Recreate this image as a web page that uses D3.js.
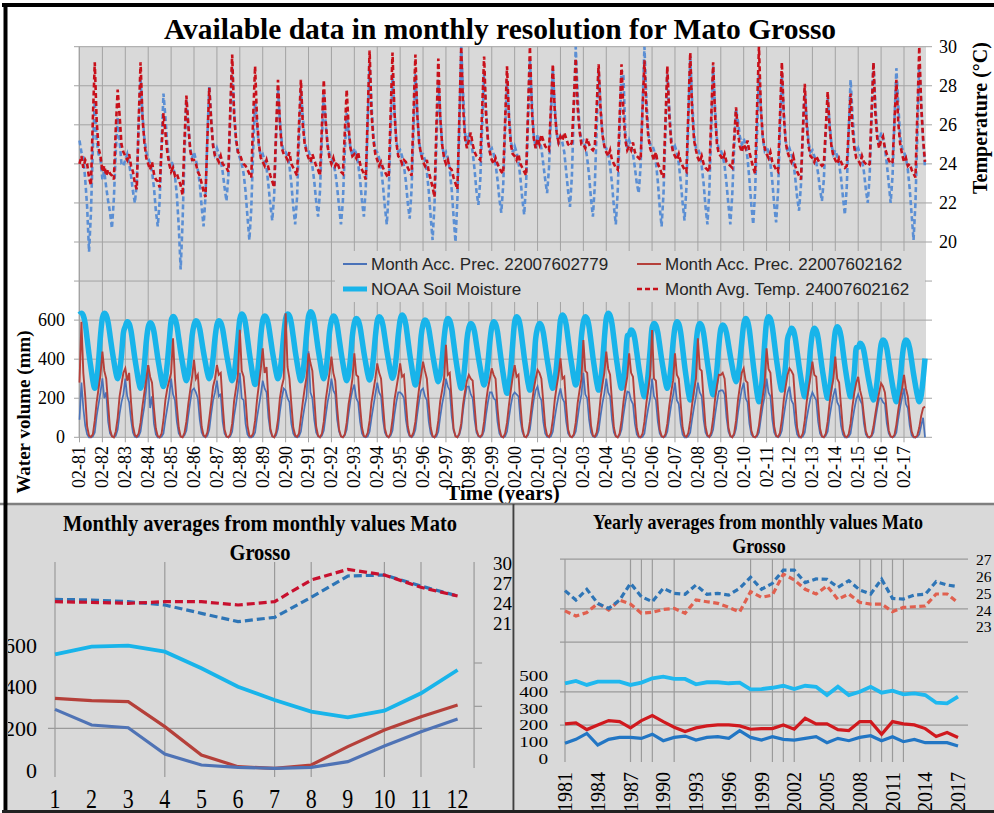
<!DOCTYPE html>
<html><head><meta charset="utf-8">
<script src="https://cdn.jsdelivr.net/npm/d3@7"></script>
<style>body{margin:0;background:#fff}svg{display:block}</style>
</head><body>
<svg id="c" width="994" height="813"></svg>
<script>
// ---------------- DATA ----------------
// Top chart: monthly series Jan 1981 .. Dec 2017 (one row per year)
const tickLabels = ["02-81","02-82","02-83","02-84","02-85","02-86","02-87","02-88","02-89","02-90","02-91","02-92","02-93","02-94","02-95","02-96","02-97","02-98","02-99","02-00","02-01","02-02","02-03","02-04","02-05","02-06","02-07","02-08","02-09","02-10","02-11","02-12","02-13","02-14","02-15","02-16","02-17"];

const precip2779 = [
[90,280,150,60,15,0,0,5,25,110,170,230],
[302,200,230,80,20,5,0,8,40,120,180,220],
[300,210,180,90,25,3,0,5,30,100,160,250],
[370,150,210,70,15,0,0,3,20,90,150,210],
[300,220,190,80,20,5,0,10,35,110,180,240],
[250,230,200,90,25,5,0,8,40,120,190,230],
[290,210,220,80,20,3,0,5,30,110,170,240],
[330,200,190,70,15,0,0,5,25,100,160,220],
[290,250,230,100,30,5,0,10,45,130,200,250],
[240,200,180,70,20,3,0,5,30,100,160,210],
[440,230,200,90,25,5,0,8,35,110,180,230],
[300,240,220,90,30,5,0,10,40,120,190,240],
[270,200,180,80,20,3,0,5,30,100,160,220],
[280,230,210,90,25,5,0,8,35,115,180,230],
[230,220,200,90,30,5,0,10,40,120,190,240],
[250,210,190,80,20,3,0,5,30,105,170,220],
[300,260,240,110,35,8,0,12,50,140,210,260],
[260,220,200,90,25,5,0,8,35,115,180,230],
[230,200,190,80,20,3,0,5,30,100,165,215],
[230,220,210,90,30,5,0,10,40,120,190,240],
[260,210,190,80,20,3,0,5,30,100,160,210],
[250,200,180,80,20,5,0,8,30,100,170,220],
[330,220,200,90,25,5,0,8,35,110,175,225],
[300,230,210,90,25,5,0,10,40,115,180,235],
[230,190,170,70,15,0,0,3,20,90,150,200],
[300,210,190,80,20,3,0,5,30,100,165,215],
[280,190,170,70,15,0,0,5,25,95,155,210],
[280,230,210,90,25,5,0,10,40,115,180,235],
[240,240,220,100,30,5,0,10,45,125,190,245],
[280,200,180,70,15,3,0,5,25,95,160,210],
[300,230,210,90,25,5,0,8,35,110,175,230],
[260,190,170,70,15,0,0,5,25,95,150,200],
[230,210,190,80,20,3,0,8,30,105,165,215],
[250,180,160,60,15,0,0,3,20,85,145,195],
[220,190,170,70,15,0,0,5,25,90,150,200],
[200,180,170,70,20,3,0,5,25,95,155,205],
[250,170,150,60,10,0,0,3,15,60,100,0]
].flat();

const precip2162 = [
[280,592,330,210,55,8,2,15,85,180,250,320],
[439,340,300,170,40,5,0,30,100,210,270,330],
[353,290,330,180,60,12,3,20,75,160,230,300],
[370,310,280,150,45,6,0,18,90,190,250,290],
[330,507,300,160,50,4,0,22,80,170,240,310],
[396,300,320,190,55,10,2,25,95,175,260,300],
[370,320,330,170,40,5,0,15,70,185,250,320],
[550,340,310,200,60,8,3,20,85,190,270,350],
[456,330,360,180,45,6,0,25,90,200,260,300],
[635,360,300,170,50,10,2,20,100,180,250,310],
[430,380,340,200,55,8,0,18,80,190,260,330],
[413,330,290,150,40,5,0,15,75,170,230,300],
[430,320,310,160,50,6,2,22,85,180,240,300],
[378,330,300,170,45,8,0,20,90,190,250,310],
[378,310,320,180,55,10,3,25,80,175,255,320],
[387,340,300,170,50,6,0,18,85,185,240,300],
[473,320,330,190,45,5,0,20,70,170,235,290],
[319,300,290,160,40,8,2,15,80,180,250,300],
[353,320,300,150,45,6,0,20,75,165,240,310],
[370,310,320,170,50,5,0,18,80,170,245,300],
[345,330,300,180,55,10,2,22,90,190,260,320],
[404,300,310,160,40,6,0,15,75,175,240,300],
[498,340,330,190,60,8,3,25,95,200,270,330],
[439,350,320,180,50,6,0,20,85,180,250,310],
[430,330,310,170,45,5,0,18,80,175,245,320],
[549,300,290,160,40,6,0,15,70,160,230,290],
[430,320,300,170,50,8,2,22,85,170,240,300],
[507,350,340,190,55,10,2,25,95,195,265,320],
[319,330,300,180,50,8,0,20,85,190,260,330],
[353,290,280,140,35,4,0,12,60,140,210,280],
[456,350,330,190,55,8,2,22,90,190,260,320],
[353,340,320,180,50,6,0,20,85,180,250,310],
[387,320,310,170,45,5,0,18,80,175,245,300],
[413,300,280,160,40,6,0,15,70,160,230,280],
[310,240,200,110,30,4,0,10,55,120,180,230],
[276,260,230,130,35,5,0,12,65,140,200,250],
[319,250,210,110,30,3,0,10,50,110,150,157]
].flat();

const soilMoisture = [
[628,635,623,581,504,424,355,289,251,289,389,520],
[612,635,625,588,521,451,390,334,300,334,421,535],
[568,592,582,544,476,404,343,285,251,285,374,490],
[564,587,577,541,476,407,348,293,260,293,378,489],
[595,618,608,572,506,438,379,323,290,323,408,520],
[576,597,588,555,496,434,380,330,300,330,407,508],
[576,597,588,554,493,428,373,321,290,321,401,505],
[606,631,620,580,508,432,367,306,270,306,400,523],
[599,621,611,576,512,444,387,332,300,332,416,525],
[607,631,621,583,515,443,382,324,290,324,413,529],
[619,643,633,595,526,454,393,334,300,334,423,540],
[598,621,611,575,508,439,379,323,290,323,409,522],
[586,608,599,564,501,435,378,325,293,325,406,514],
[595,617,608,573,510,444,387,334,302,334,415,523],
[601,626,615,576,504,429,365,304,268,304,397,519],
[578,600,591,556,493,427,370,317,285,317,398,506],
[583,608,597,558,487,412,347,287,251,287,380,501],
[561,583,574,539,476,410,353,300,268,300,381,489],
[566,592,581,541,467,390,324,262,225,262,357,482],
[591,617,606,565,490,411,343,280,242,280,377,505],
[560,583,573,537,470,400,341,284,251,284,371,483],
[601,626,615,576,504,429,365,304,268,304,397,519],
[591,617,606,565,490,411,343,280,242,280,377,505],
[608,635,623,581,504,424,355,289,251,289,389,520],
[525,549,539,501,433,361,300,242,208,242,331,447],
[560,583,573,537,470,400,341,284,251,284,371,483],
[564,592,580,536,456,371,299,231,191,231,335,472],
[557,583,572,532,459,382,316,254,217,254,349,473],
[555,575,566,534,476,416,363,314,285,314,389,488],
[578,608,595,548,463,374,297,225,182,225,335,480],
[591,617,606,565,490,411,343,280,242,280,377,505],
[534,558,548,509,439,366,303,243,208,243,334,453],
[533,558,547,508,436,361,297,236,200,236,329,451],
[541,566,555,516,444,369,305,244,208,244,337,459],
[461,481,472,440,382,322,269,220,191,220,295,394],
[476,498,489,454,391,324,267,214,182,214,296,403],
[476,498,489,454,391,324,267,214,182,214,296,403]
].flat();

const temp24007602162 = [
[24.0,24.4,23.8,24.2,24.0,23.3,22.9,26.3,29.2,26.2,24.8,24.4],
[23.6,23.9,23.4,23.7,23.5,23.4,23.2,25.8,27.8,26.5,25.0,24.6],
[24.4,24.2,24.5,23.9,23.6,23.0,22.7,26.2,29.2,26.4,25.1,24.3],
[24.0,23.7,24.1,23.5,23.2,23.1,22.8,24.8,26.6,25.6,24.6,24.0],
[23.6,23.8,23.4,23.5,23.2,22.9,22.4,25.2,27.5,26.0,24.7,24.2],
[24.2,24.0,23.6,23.4,23.0,22.6,22.3,25.3,27.9,26.2,24.9,24.4],
[24.3,24.1,24.4,24.0,23.9,23.8,23.6,26.8,29.6,26.5,25.3,24.6],
[24.5,24.2,24.0,23.9,23.7,23.5,23.3,26.4,29.0,26.3,25.0,24.3],
[24.1,23.9,24.2,23.8,23.4,23.1,22.8,25.7,28.3,26.1,24.8,24.5],
[24.4,24.2,24.6,24.0,23.8,23.6,23.4,26.0,28.3,26.0,25.0,24.6],
[24.3,24.1,24.5,24.2,23.9,23.7,23.4,25.9,28.3,26.2,24.9,24.3],
[24.0,24.3,23.9,24.1,23.8,23.6,23.5,25.6,27.8,25.9,24.8,24.4],
[24.5,24.3,24.6,24.0,23.7,23.5,23.2,26.5,29.8,26.6,25.2,24.5],
[24.2,23.9,24.1,23.8,23.6,23.4,23.3,26.5,29.7,26.7,25.1,24.4],
[24.3,24.0,24.2,24.1,23.8,23.6,23.4,26.6,29.6,26.5,25.0,24.5],
[24.1,23.9,24.2,23.6,23.2,22.8,22.3,25.9,29.4,26.4,25.0,24.3],
[24.0,24.2,23.8,23.7,23.3,23.0,22.7,26.3,30.0,26.9,25.3,24.8],
[25.2,25.6,25.0,24.6,24.4,24.3,24.2,26.9,29.5,26.6,25.2,24.6],
[24.2,24.0,24.3,24.0,23.8,23.6,23.5,26.2,29.0,26.4,25.0,24.5],
[24.4,24.2,24.5,24.0,23.8,23.6,23.4,26.7,30.0,26.8,25.3,24.8],
[25.3,25.0,25.5,25.2,24.9,24.8,24.7,26.9,29.1,26.7,25.6,25.1],
[25.4,25.2,25.6,25.3,25.0,24.9,25.1,27.2,29.4,26.9,25.7,25.0],
[25.0,24.8,25.3,25.0,24.8,24.7,24.9,27.0,29.1,26.8,25.5,24.9],
[24.6,24.4,24.7,24.2,24.0,23.8,23.7,26.4,29.1,26.6,25.2,24.7],
[24.9,24.7,25.1,24.6,24.4,24.3,24.2,26.8,29.3,26.8,25.4,24.8],
[24.5,24.2,24.6,24.0,23.8,23.5,23.3,26.2,29.0,26.5,25.1,24.6],
[24.4,24.2,24.5,24.1,23.9,23.7,23.6,26.7,29.7,26.7,25.2,24.7],
[24.3,24.1,24.4,24.0,23.8,23.7,23.6,26.4,29.2,26.5,25.0,24.5],
[24.4,24.2,24.5,24.1,24.0,23.9,23.8,25.3,26.9,25.6,24.9,24.6],
[25.0,24.8,25.2,24.6,24.2,23.8,23.5,26.8,30.0,26.9,25.4,24.8],
[24.5,24.3,24.6,24.1,23.9,23.7,23.6,26.4,29.2,26.5,25.1,24.6],
[24.3,24.1,24.4,23.9,23.6,23.4,23.2,25.7,28.1,26.0,24.9,24.4],
[24.3,24.1,24.4,24.2,24.0,23.9,24.0,25.8,27.7,25.9,24.9,24.4],
[24.2,24.0,24.3,24.1,23.9,23.8,23.9,25.7,27.6,25.8,24.8,24.3],
[24.2,24.0,24.4,24.1,24.0,23.9,24.0,26.6,29.2,26.6,25.3,24.8],
[25.2,25.4,24.8,24.5,24.2,24.0,24.1,26.2,28.3,26.1,25.0,24.5],
[24.1,24.3,23.9,24.0,23.7,23.5,23.3,26.6,30.0,27.0,25.3,24.1]
].flat();

const tempBlueDashed = [
[25.2,24.6,24.3,23.2,21.8,19.5,21.5,24.8,27.2,25.2,24.5,24.2],
[23.2,23.6,22.8,22.1,21.5,20.7,22.2,24.6,26.4,25.2,24.0,23.9],
[24.2,24.5,24.0,23.4,22.6,22.0,23.0,26.0,28.3,26.5,25.3,24.6],
[24.3,24.0,23.6,22.8,21.6,20.8,22.1,25.0,27.6,26.4,25.0,24.2],
[24.2,23.9,23.4,22.4,20.8,18.6,21.0,24.4,27.3,26.0,24.8,24.3],
[24.6,24.2,23.7,23.0,21.8,20.8,22.3,25.4,28.0,26.3,25.0,24.5],
[24.8,24.5,24.2,23.6,22.8,22.1,23.4,26.4,29.0,26.8,25.2,24.6],
[24.3,24.0,23.5,22.6,21.3,20.1,21.7,24.7,27.2,26.0,24.9,24.4],
[24.5,24.2,23.8,22.9,21.9,21.1,22.4,25.3,27.8,26.2,25.1,24.6],
[24.6,24.4,23.9,23.0,21.8,20.9,22.3,25.2,27.8,26.4,25.2,24.7],
[24.7,24.3,23.9,23.1,22.1,21.3,22.6,25.3,27.6,26.0,25.0,24.5],
[24.3,24.0,23.6,22.8,21.8,20.9,22.1,24.6,26.6,25.6,24.8,24.4],
[24.8,24.5,24.0,23.2,22.1,21.3,22.8,26.0,29.1,27.0,25.4,24.7],
[24.6,24.3,23.8,22.9,21.8,20.9,22.5,25.6,28.6,26.8,25.2,24.6],
[24.7,24.4,23.9,23.1,22.0,21.2,22.7,25.7,28.6,26.6,25.1,24.5],
[24.5,24.2,23.6,22.6,21.3,20.1,21.9,25.0,28.3,26.5,25.0,24.4],
[24.6,24.3,23.7,22.7,21.3,20.0,22.2,25.8,30.0,27.6,25.6,25.0],
[25.6,25.2,24.6,23.7,22.6,21.9,23.2,26.0,28.6,26.7,25.3,24.7],
[24.8,24.5,24.0,23.2,22.2,21.5,22.9,25.7,28.3,26.6,25.2,24.6],
[24.9,24.6,24.1,23.3,22.2,21.4,23.0,26.2,29.3,27.2,25.5,24.8],
[25.5,25.2,24.8,24.0,23.2,22.5,23.8,26.5,28.9,27.0,25.6,25.0],
[25.4,25.1,24.6,23.6,22.6,21.8,23.4,26.7,30.0,27.6,25.8,25.1],
[25.2,24.9,24.3,23.4,22.2,21.3,22.9,25.9,28.8,27.0,25.5,24.9],
[24.8,24.5,23.9,23.0,21.8,20.9,22.6,25.7,28.8,28.5,25.6,24.8],
[25.2,24.9,24.5,23.8,23.0,22.5,23.9,27.0,30.0,27.4,25.6,25.0],
[25.0,24.7,24.1,23.1,21.8,20.8,22.5,25.6,28.6,26.8,25.3,24.7],
[24.9,24.6,24.0,23.1,22.0,21.1,22.8,26.2,29.5,27.2,25.5,24.8],
[24.8,24.5,23.9,23.0,21.8,20.9,22.6,25.8,29.0,26.9,25.3,24.7],
[24.7,24.4,23.9,23.0,21.9,20.9,22.4,24.8,26.8,26.2,25.4,25.0],
[25.3,25.0,24.3,23.2,21.9,20.9,22.6,25.6,28.6,26.8,25.3,24.7],
[24.9,24.6,24.0,23.1,21.9,21.0,22.6,25.7,28.6,26.7,25.2,24.6],
[24.8,24.5,24.1,23.3,22.3,21.6,22.9,25.5,27.8,26.3,25.1,24.6],
[24.7,24.4,24.1,23.5,22.7,22.1,23.2,25.5,27.4,26.1,25.0,24.5],
[24.7,24.4,24.0,23.3,22.3,21.4,22.8,25.6,28.3,26.6,25.1,24.6],
[24.8,24.5,24.2,23.6,22.7,22.0,23.4,26.3,29.2,27.0,25.5,25.0],
[25.6,25.3,24.8,24.0,23.0,22.0,23.4,26.2,28.9,27.0,25.4,24.8],
[24.6,24.3,23.7,22.7,21.4,20.1,22.0,25.6,29.1,27.2,25.2,23.8]
].flat();

// Bottom-left: monthly averages
const months = [1,2,3,4,5,6,7,8,9,10,11,12];
const mPrec2779 = [291,216,203,77,24,13,8,13,40,115,184,245];
const mPrec2162 = [344,333,328,208,72,16,8,24,112,192,256,312];
const mSoil = [555,592,597,568,488,400,336,280,253,285,368,480];
const mTempRed = [24.2,24.1,23.95,24.2,24.2,23.7,24.2,27.45,29.05,28.2,26.35,25.05];
const mTempBlue = [24.55,24.45,24.2,23.7,22.45,21.2,21.85,24.85,28.05,28.2,26.55,25.05];

// Bottom-right: yearly averages
const years = [1981,1982,1983,1984,1985,1986,1987,1988,1989,1990,1991,1992,1993,1994,1995,1996,1997,1998,1999,2000,2001,2002,2003,2004,2005,2006,2007,2008,2009,2010,2011,2012,2013,2014,2015,2016,2017];
const yearTicks = [1981,1984,1987,1990,1993,1996,1999,2002,2005,2008,2011,2014,2017];
const ySoil = [452,466,442,462,462,462,442,456,482,492,478,478,446,458,458,452,456,415,417,425,437,417,437,431,381,431,381,401,431,395,407,385,391,381,335,331,371];
const yPrec2162 = [207,213,173,201,227,221,183,227,257,221,187,161,183,195,201,201,195,175,179,179,201,175,241,207,207,173,167,221,221,145,221,207,201,179,131,155,125];
const yPrec2779 = [90,114,150,80,114,126,126,120,145,106,126,134,110,126,130,120,167,126,110,130,114,110,120,130,94,120,106,126,136,106,130,100,114,94,94,94,74];
const yTempBlue = [25.17,24.61,25.25,24.41,24.11,24.61,25.61,24.81,24.51,25.31,25.01,24.95,25.51,24.95,25.01,24.91,25.31,25.97,25.25,25.61,26.4,26.4,25.65,25.87,25.85,25.37,25.77,25.21,24.97,25.85,24.71,24.67,24.91,24.95,25.71,25.51,25.41];
const yTempRed = [23.96,23.66,23.86,24.41,24.01,24.61,24.37,23.82,23.88,24.05,24.11,23.82,24.61,24.51,24.41,24.17,23.9,25.11,24.77,24.91,26.16,25.81,25.25,24.97,25.45,24.65,24.97,24.47,24.37,24.37,23.92,24.17,24.21,24.25,24.97,24.97,24.45];

// ---------------- DRAW ----------------
const serif = '"Liberation Serif","Times New Roman",serif';
const sans = '"Liberation Sans",Arial,sans-serif';
const svg = d3.select("#c");
const defs = svg.append("defs");
function clip(id,x,y,w,h){defs.append("clipPath").attr("id",id).append("rect").attr("x",x).attr("y",y).attr("width",w).attr("height",h);}
clip("cTop",7,7,987,496); clip("cBL",8,505,505,305); clip("cBR",515,505,479,305);

svg.append("rect").attr("width",994).attr("height",813).attr("fill","#fff");
function T(g,x,y,s,o={}){
  const t=g.append("text").attr("x",x).attr("y",y).text(s)
    .attr("font-family",o.f||serif).attr("font-size",o.size||16).attr("fill",o.fill||"#000")
    .attr("text-anchor",o.anchor||"start");
  if(o.bold) t.attr("font-weight","bold");
  if(o.dy) t.attr("dy",o.dy);
  if(o.tr) t.attr("transform",o.tr);
  if(o.len) t.attr("textLength",o.len).attr("lengthAdjust","spacingAndGlyphs");
  return t;
}

// ===== TOP PANEL =====
const gTop = svg.append("g").attr("clip-path","url(#cTop)");
const N = precip2779.length;
const xT = d3.scaleLinear().domain([0,N-1]).range([79.5,925]);
const yW = d3.scaleLinear().domain([0,2000]).range([437.3,46.7]);
const yTp = d3.scaleLinear().domain([10,30]).range([437.3,46.7]);
const gridGrey = "#a3a3a3";

gTop.append("rect").attr("x",78).attr("y",yW(2000)).attr("width",926-78).attr("height",yW(0)-yW(2000)).attr("fill","#d9d9d9");
d3.range(0,2001,200).forEach(v=>{
  gTop.append("line").attr("x1",74).attr("x2",932).attr("y1",yW(v)).attr("y2",yW(v)).attr("stroke",gridGrey).attr("stroke-width",1);
});
tickLabels.forEach((t,i)=>{
  const xx = xT(i*12);
  gTop.append("line").attr("x1",xx).attr("x2",xx).attr("y1",yW(2000)).attr("y2",yW(0)+5).attr("stroke",gridGrey).attr("stroke-width",1);
  T(gTop,0,0,t,{size:18,anchor:"end",dy:"0.33em",tr:`translate(${xx},446) rotate(-90)`});
});

const lW = d3.line().x((d,i)=>xT(i)).y(d=>yW(d));
const lT = d3.line().x((d,i)=>xT(i)).y(d=>yTp(d));
gTop.append("path").attr("d",lW.curve(d3.curveMonotoneX)(soilMoisture)).attr("fill","none").attr("stroke","#18b4ea").attr("stroke-width",5.5);
gTop.append("path").attr("d",lW.curve(d3.curveLinear)(precip2779)).attr("fill","none").attr("stroke","#4a72b8").attr("stroke-width",1.7);
gTop.append("path").attr("d",lW.curve(d3.curveLinear)(precip2162)).attr("fill","none").attr("stroke","#b5403a").attr("stroke-width",1.9);
gTop.append("path").attr("d",lT(tempBlueDashed)).attr("fill","none").attr("stroke","#5b8fd4").attr("stroke-width",2.6).attr("stroke-dasharray","5,3");
gTop.append("path").attr("d",lT(temp24007602162)).attr("fill","none").attr("stroke","#c8101a").attr("stroke-width",2.6).attr("stroke-dasharray","5,3");

[0,200,400,600].forEach(v=>T(gTop,65,yW(v),v,{size:18,anchor:"end",dy:"0.33em"}));
[20,22,24,26,28,30].forEach(v=>T(gTop,939,yTp(v),v,{size:18,dy:"0.33em"}));

// legend
gTop.append("rect").attr("x",335).attr("y",251).attr("width",590).attr("height",51).attr("fill","#d9d9d9");
const legend = [
  {x:343,y:264,label:"Month Acc. Prec. 22007602779",c:"#4a72b8",w:2,dash:null},
  {x:637,y:264,label:"Month Acc. Prec. 22007602162",c:"#b5403a",w:2,dash:null},
  {x:343,y:289,label:"NOAA Soil Moisture",c:"#18b4ea",w:5,dash:null},
  {x:637,y:289,label:"Month Avg. Temp. 24007602162",c:"#c8101a",w:2.4,dash:"5,3"}
];
legend.forEach(L=>{
  const ln=gTop.append("line").attr("x1",L.x).attr("x2",L.x+24).attr("y1",L.y).attr("y2",L.y).attr("stroke",L.c).attr("stroke-width",L.w);
  if(L.dash) ln.attr("stroke-dasharray",L.dash);
  T(gTop,L.x+28,L.y,L.label,{f:sans,size:17,fill:"#262626",dy:"0.35em"});
});

T(gTop,500,39,"Available data in monthly resolution for Mato Grosso",{size:29.5,bold:true,anchor:"middle"});
T(gTop,0,0,"Temperature (°C)",{size:20,bold:true,anchor:"middle",tr:"translate(987,118) rotate(-90)"});
T(gTop,0,0,"Water volume (mm)",{size:19,bold:true,anchor:"middle",tr:"translate(30,412) rotate(-90)"});
T(gTop,503,500,"Time (years)",{size:21,bold:true,anchor:"middle"});

// ===== BOTTOM LEFT =====
const bl = svg.append("g").attr("clip-path","url(#cBL)");
bl.append("rect").attr("x",8).attr("y",505).attr("width",505).attr("height",306).attr("fill","#d9d9d9");
const xm = d3.scaleLinear().domain([1,12]).range([55,457.6]);
const yMW = d3.scaleLinear().domain([0,600]).range([770,645]);
const yMT = d3.scaleLinear().domain([21,30]).range([623,563]);
const blGridMonths = [1,4,7,8,10,11];
blGridMonths.forEach(m=>bl.append("line").attr("x1",xm(m)).attr("x2",xm(m)).attr("y1",562).attr("y2",777).attr("stroke","#9a9a9a").attr("stroke-width",1.2));
bl.append("line").attr("x1",xm(12.45)).attr("x2",xm(12.45)).attr("y1",562).attr("y2",768).attr("stroke","#9a9a9a").attr("stroke-width",1.2);
[15,8.5].forEach(v=>bl.append("line").attr("x1",xm(12.45)).attr("x2",xm(12.45)+8).attr("y1",yMT(v)).attr("y2",yMT(v)).attr("stroke","#9a9a9a").attr("stroke-width",1.2));
bl.append("line").attr("x1",48).attr("x2",482).attr("y1",yMW(200)).attr("y2",yMW(200)).attr("stroke","#9a9a9a").attr("stroke-width",1.2);

const lm = d3.line().x((d,i)=>xm(months[i]));
bl.append("path").attr("d",lm.y(d=>yMW(d))(mSoil)).attr("fill","none").attr("stroke","#18b4ea").attr("stroke-width",3.8);
bl.append("path").attr("d",lm.y(d=>yMW(d))(mPrec2162)).attr("fill","none").attr("stroke","#b5403a").attr("stroke-width",3.2);
bl.append("path").attr("d",lm.y(d=>yMW(d))(mPrec2779)).attr("fill","none").attr("stroke","#4f73b5").attr("stroke-width",3.2);
bl.append("path").attr("d",lm.y(d=>yMT(d))(mTempBlue)).attr("fill","none").attr("stroke","#2e75b6").attr("stroke-width",3.2).attr("stroke-dasharray","8,4");
bl.append("path").attr("d",lm.y(d=>yMT(d))(mTempRed)).attr("fill","none").attr("stroke","#c8102e").attr("stroke-width",3.2).attr("stroke-dasharray","8,4");

[0,200,400,600].forEach(v=>T(bl,37,yMW(v),v,{size:22,anchor:"end",dy:"0.35em"}));
[21,24,27,30].forEach(v=>T(bl,493,yMT(v),v,{size:19,dy:"0.35em"}));
months.forEach(m=>T(bl,0,0,m,{size:22,anchor:"middle",tr:`translate(${xm(m)},808) scale(1,1.22)`}));
T(bl,0,0,"Monthly averages from monthly values Mato",{size:20.5,bold:true,anchor:"middle",tr:"translate(260,531) scale(1,1.15)"});
T(bl,0,0,"Grosso",{size:20.5,bold:true,anchor:"middle",tr:"translate(260,560) scale(1,1.15)"});

// ===== BOTTOM RIGHT =====
const br = svg.append("g").attr("clip-path","url(#cBR)");
br.append("rect").attr("x",515).attr("y",505).attr("width",479).attr("height",306).attr("fill","#d9d9d9");
const xy = d3.scaleLinear().domain([1981,2017]).range([565,958]);
const yYW = d3.scaleLinear().domain([0,500]).range([758.3,675.3]);
const yYT = d3.scaleLinear().domain([23,27]).range([627,560]);
const brGridValues = [1200,900,700,400,200];
const brGridYears = [1981,1987,1988,1989,1991,1998,2000,2001,2002,2008,2009,2010,2011,2012];
brGridValues.forEach(v=>br.append("line").attr("x1",560).attr("x2",968).attr("y1",yYW(v)).attr("y2",yYW(v)).attr("stroke","#9a9a9a").attr("stroke-width",1.2));
brGridYears.forEach(y=>br.append("line").attr("x1",xy(y)).attr("x2",xy(y)).attr("y1",yYW(1200)).attr("y2",762).attr("stroke","#9a9a9a").attr("stroke-width",1.2));

const ly = d3.line().x((d,i)=>xy(years[i]));
br.append("path").attr("d",ly.y(d=>yYW(d))(ySoil)).attr("fill","none").attr("stroke","#1fb8ef").attr("stroke-width",3.8);
br.append("path").attr("d",ly.y(d=>yYW(d))(yPrec2162)).attr("fill","none").attr("stroke","#d0191e").attr("stroke-width",3.2);
br.append("path").attr("d",ly.y(d=>yYW(d))(yPrec2779)).attr("fill","none").attr("stroke","#2276c4").attr("stroke-width",3.2);
br.append("path").attr("d",ly.y(d=>yYT(d))(yTempRed)).attr("fill","none").attr("stroke","#e0604f").attr("stroke-width",3.2).attr("stroke-dasharray","6,3.5");
br.append("path").attr("d",ly.y(d=>yYT(d))(yTempBlue)).attr("fill","none").attr("stroke","#2e75b6").attr("stroke-width",3.2).attr("stroke-dasharray","6,3.5");

[0,100,200,300,400,500].forEach(v=>{const s=String(v); T(br,548,yYW(v),s,{size:15,anchor:"end",dy:"0.35em",len:s.length*9.6});});
[23,24,25,26,27].forEach(v=>T(br,976,yYT(v),v,{size:15.5,dy:"0.35em"}));
yearTicks.forEach(y=>T(br,0,0,y,{size:20,anchor:"end",dy:"0.35em",tr:`translate(${xy(y)},772) rotate(-90)`}));
T(br,0,0,"Yearly averages from monthly values Mato",{size:18,bold:true,anchor:"middle",tr:"translate(758,529) scale(1,1.12)"});
T(br,0,0,"Grosso",{size:18,bold:true,anchor:"middle",tr:"translate(759,553) scale(1,1.12)"});

// ===== FRAMES =====
svg.append("line").attr("x1",0).attr("x2",994).attr("y1",504).attr("y2",504).attr("stroke","#7f7f7f").attr("stroke-width",2.5);
svg.append("line").attr("x1",513.5).attr("x2",513.5).attr("y1",504).attr("y2",813).attr("stroke","#404040").attr("stroke-width",2);
svg.append("line").attr("x1",2).attr("x2",994).attr("y1",5).attr("y2",5).attr("stroke","#000").attr("stroke-width",4);
svg.append("line").attr("x1",5.5).attr("x2",5.5).attr("y1",3).attr("y2",813).attr("stroke","#000").attr("stroke-width",4);
svg.append("line").attr("x1",2).attr("x2",994).attr("y1",811.5).attr("y2",811.5).attr("stroke","#222").attr("stroke-width",3);
</script>
</body></html>
